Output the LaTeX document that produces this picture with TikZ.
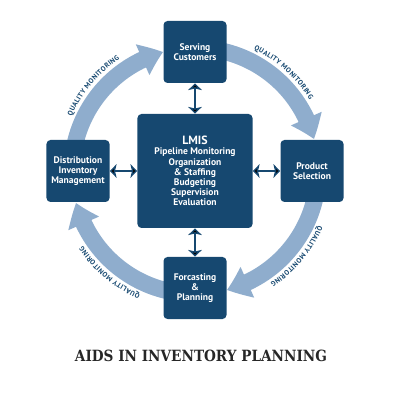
\documentclass[tikz,border=0pt]{standalone}
\usepackage{graphicx}
\usepackage{fontspec}
\setsansfont{PT Sans}
\newfontfamily\titlefont{DejaVu Serif}
\usetikzlibrary{arrows.meta,bending,decorations.text}
\definecolor{navy}{RGB}{22,72,112}
\definecolor{steel}{RGB}{143,173,205}
\newcommand\qfont{\sffamily\bfseries\fontsize{5}{6}\selectfont}

\begin{document}
\begin{tikzpicture}[x=0.25mm,y=0.25mm,line cap=round]
	\tikzstyle{box}=[draw=none,fill=navy,rounded corners=1mm,minimum width=15.75mm,minimum height=15.5mm,align=center,text=white,font=\sffamily\bfseries\fontsize{6.8}{7.2}\selectfont];
	\tikzstyle{bigbox}=[box,minimum width=28.75mm,minimum height=28.5mm];
	\tikzstyle{qarc}=[draw=steel,line width=4.2mm,line cap=butt,-{Triangle[width=8mm,length=5.5mm,bend]}];
	\tikzstyle{dbl}=[draw=navy,line width=0.5mm,line cap=butt,{Stealth[width=3.4mm,length=1.7mm,inset=0.4mm]}-{Stealth[width=3.4mm,length=1.7mm,inset=0.4mm]}];
	\tikzstyle{qtext}=[decorate,decoration={text along path,raise=3mm,text align=center,text color=navy,text={|\qfont|QUALITY MONITORING}}];

	\useasboundingbox (0,0) rectangle (400,400);
	\coordinate (c) at (195,229);

	% quality monitoring loop (clockwise)
	\draw[qarc] (c) ++(180:123) arc[start angle=180,end angle=105,radius=123];
	\draw[qarc] (c) ++(80:123)  arc[start angle=80,end angle=15,radius=123];
	\draw[qarc] (c) ++(-5:123)  arc[start angle=-5,end angle=-75,radius=123];
	\draw[qarc] (c) ++(-100:123) arc[start angle=-100,end angle=-165,radius=123];
	\path[qtext] (c) ++(165:123) arc[start angle=165,end angle=115,radius=123];
	\path[qtext] (c) ++(72:123)  arc[start angle=72,end angle=24,radius=123];
	\path[qtext] (c) ++(-16:123) arc[start angle=-16,end angle=-64,radius=123];
	\path[qtext] (c) ++(-106:123) arc[start angle=-106,end angle=-154,radius=123];

	% boxes
	\node[bigbox] (lmis) at (c) {{\fontsize{8.5}{10}\selectfont LMIS}\\Pipeline Monitoring\\Organization\\\& Staffing\\Budgeting\\Supervision\\Evaluation};
	\node[box] (serv) at (195,348) {Serving\\Customers};
	\node[box] (dist) at (78,229)  {Distribution\\Inventory\\Management};
	\node[box] (prod) at (312,229) {Product\\Selection};
	\node[box] (fore) at (195,112) {Forcasting\\\&\\Planning};

	\draw[dbl] (serv) -- (lmis);
	\draw[dbl] (dist) -- (lmis);
	\draw[dbl] (lmis) -- (prod);
	\draw[dbl] (lmis) -- (fore);

	\node[font=\titlefont\bfseries\fontsize{11}{13}\selectfont,text=black!85] (title) at (201,44) {\scalebox{0.88}[1]{AIDS IN INVENTORY PLANNING}};
\end{tikzpicture}
\end{document}
